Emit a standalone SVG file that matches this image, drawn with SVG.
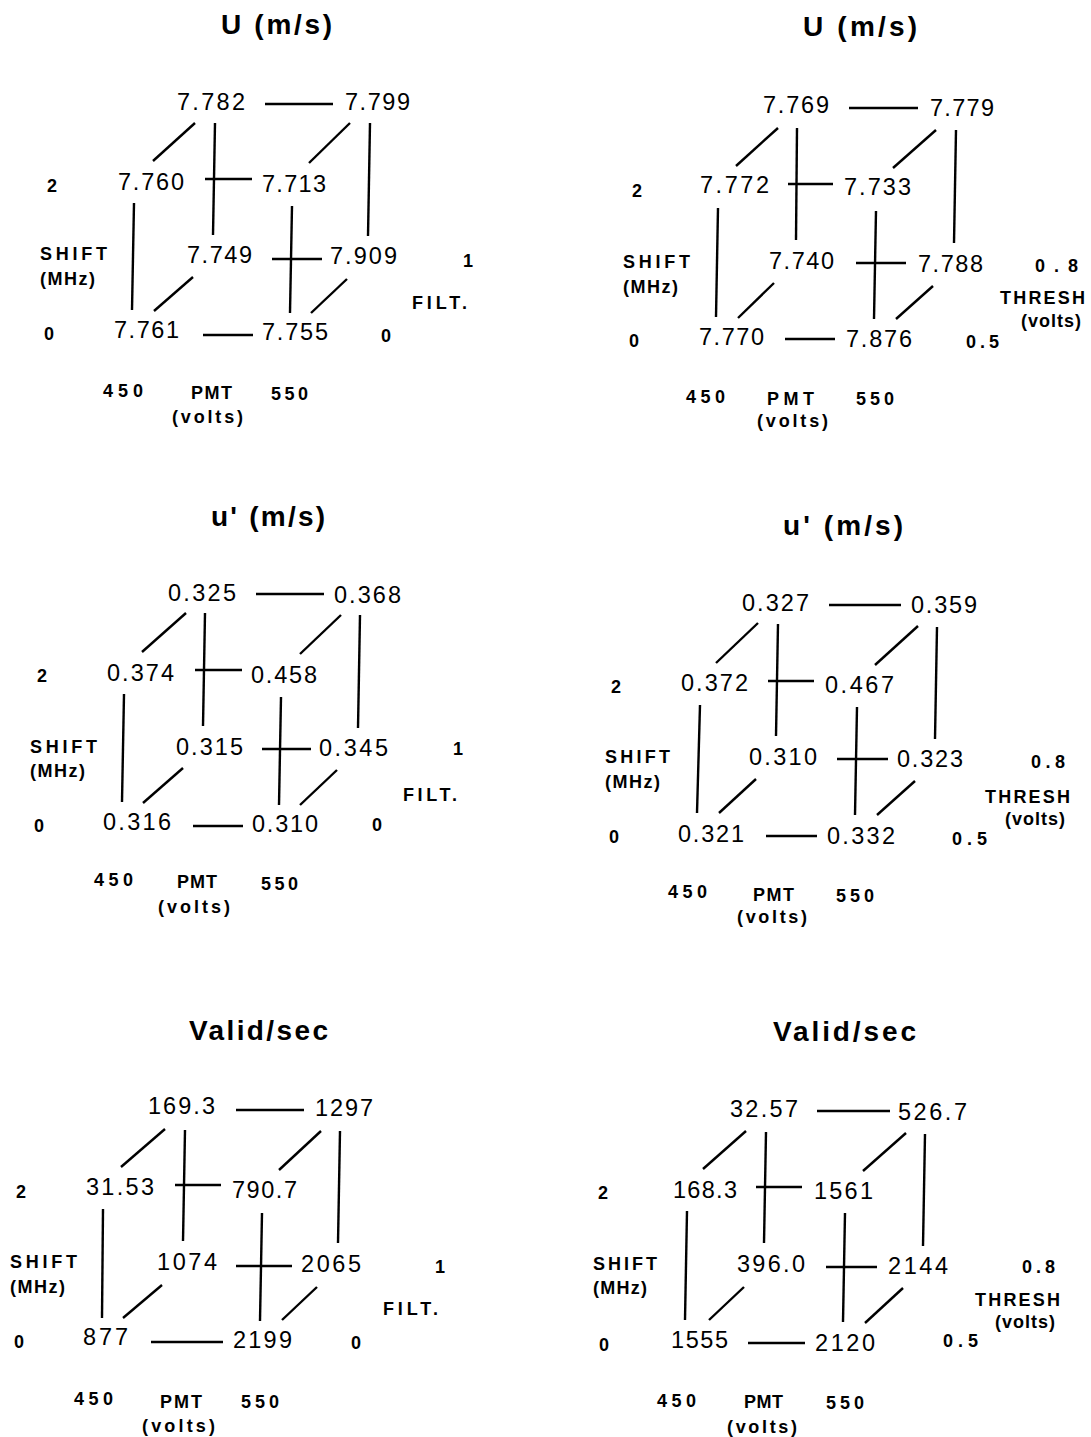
<svg xmlns="http://www.w3.org/2000/svg" width="1091" height="1437" viewBox="0 0 1091 1437">
<style>
.n{font-family:"Liberation Sans",Arial,sans-serif;font-size:23.5px;fill:#000}
.l{font-family:"Liberation Sans",Arial,sans-serif;font-size:18px;font-weight:bold;fill:#000}
.t{font-family:"Liberation Sans",Arial,sans-serif;font-size:28px;font-weight:bold;fill:#000}
.e line{stroke:#000;stroke-width:2.4;stroke-linecap:butt}
</style>
<rect width="1091" height="1437" fill="#fff"/>

<!-- Cube 1: U (m/s), FILT -->
<g id="cube1">
<text class="t" x="221" y="34" textLength="111">U  (m/s)</text>
<g id="c1-n1"><text class="n" x="177" y="110" textLength="68">7.782</text></g>
<g id="c1-n2"><text class="n" x="345" y="110" textLength="65">7.799</text></g>
<g id="c1-n3"><text class="n" x="118" y="190" textLength="66">7.760</text></g>
<g id="c1-n4"><text class="n" x="262" y="192" textLength="64">7.713</text></g>
<g id="c1-n5"><text class="n" x="187" y="263" textLength="65">7.749</text></g>
<g id="c1-n6"><text class="n" x="330" y="264" textLength="67">7.909</text></g>
<g id="c1-n7"><text class="n" x="114" y="338" textLength="65">7.761</text></g>
<g id="c1-n8"><text class="n" x="262" y="340" textLength="66">7.755</text></g>
<g id="c1-edges" class="e">
<line x1="265" y1="104" x2="333" y2="104"/>
<line x1="195" y1="123" x2="153" y2="161"/>
<line x1="215" y1="123" x2="213" y2="235"/>
<line x1="350" y1="123" x2="309" y2="163"/>
<line x1="370" y1="123" x2="368" y2="236"/>
<line x1="205" y1="179" x2="252" y2="179"/>
<line x1="134" y1="203" x2="132" y2="310"/>
<line x1="292" y1="206" x2="290" y2="313"/>
<line x1="272" y1="259" x2="322" y2="259"/>
<line x1="193" y1="277" x2="154" y2="311"/>
<line x1="347" y1="279" x2="311" y2="313"/>
<line x1="203" y1="335" x2="253" y2="335"/>
</g>
<g id="c1-axes">
<text class="l" x="47" y="192">2</text>
<text class="l" x="40" y="260" textLength="67">SHIFT</text>
<text class="l" x="40" y="285" textLength="55">(MHz)</text>
<text class="l" x="463" y="267">1</text>
<text class="l" x="412" y="309" textLength="55">FILT.</text>
<text class="l" x="44" y="340">0</text>
<text class="l" x="381" y="342">0</text>
<text class="l" x="103" y="397" textLength="40">450</text>
<text class="l" x="191" y="399" textLength="41">PMT</text>
<text class="l" x="271" y="400" textLength="37">550</text>
<text class="l" x="172" y="423" textLength="71">(volts)</text>
</g>
</g>

<!-- Cube 2: U (m/s), THRESH -->
<g id="cube2">
<text class="t" x="803" y="36" textLength="114">U  (m/s)</text>
<g id="c2-n1"><text class="n" x="763" y="113" textLength="66">7.769</text></g>
<g id="c2-n2"><text class="n" x="930" y="116" textLength="64">7.779</text></g>
<g id="c2-n3"><text class="n" x="700" y="193" textLength="69">7.772</text></g>
<g id="c2-n4"><text class="n" x="844" y="195" textLength="67">7.733</text></g>
<g id="c2-n5"><text class="n" x="769" y="269" textLength="65">7.740</text></g>
<g id="c2-n6"><text class="n" x="918" y="272" textLength="65">7.788</text></g>
<g id="c2-n7"><text class="n" x="699" y="345" textLength="65">7.770</text></g>
<g id="c2-n8"><text class="n" x="846" y="347" textLength="66">7.876</text></g>
<g id="c2-edges" class="e">
<line x1="849" y1="108" x2="918" y2="108"/>
<line x1="778" y1="128" x2="736" y2="166"/>
<line x1="797" y1="128" x2="796" y2="240"/>
<line x1="936" y1="130" x2="893" y2="168"/>
<line x1="956" y1="130" x2="954" y2="243"/>
<line x1="788" y1="184" x2="833" y2="184"/>
<line x1="718" y1="208" x2="716" y2="317"/>
<line x1="876" y1="211" x2="874" y2="319"/>
<line x1="856" y1="263" x2="906" y2="263"/>
<line x1="774" y1="283" x2="738" y2="318"/>
<line x1="933" y1="286" x2="896" y2="319"/>
<line x1="785" y1="339" x2="835" y2="339"/>
</g>
<g id="c2-axes">
<text class="l" x="632" y="197">2</text>
<text class="l" x="623" y="268" textLength="67">SHIFT</text>
<text class="l" x="623" y="293" textLength="55">(MHz)</text>
<text class="l" x="1035" y="272" textLength="43">0.8</text>
<text class="l" x="1000" y="304" textLength="85">THRESH</text>
<text class="l" x="1021" y="327" textLength="60">(volts)</text>
<text class="l" x="629" y="347">0</text>
<text class="l" x="966" y="348" textLength="33">0.5</text>
<text class="l" x="686" y="403" textLength="39">450</text>
<text class="l" x="767" y="405" textLength="47">PMT</text>
<text class="l" x="856" y="405" textLength="38">550</text>
<text class="l" x="757" y="427" textLength="71">(volts)</text>
</g>
</g>

<!-- Cube 3: u' (m/s), FILT -->
<g id="cube3">
<text class="t" x="211" y="526" textLength="114">u'  (m/s)</text>
<g id="c3-n1"><text class="n" x="168" y="601" textLength="68">0.325</text></g>
<g id="c3-n2"><text class="n" x="334" y="603" textLength="67">0.368</text></g>
<g id="c3-n3"><text class="n" x="107" y="681" textLength="67">0.374</text></g>
<g id="c3-n4"><text class="n" x="251" y="683" textLength="66">0.458</text></g>
<g id="c3-n5"><text class="n" x="176" y="755" textLength="67">0.315</text></g>
<g id="c3-n6"><text class="n" x="319" y="756" textLength="69">0.345</text></g>
<g id="c3-n7"><text class="n" x="103" y="830" textLength="68">0.316</text></g>
<g id="c3-n8"><text class="n" x="252" y="832" textLength="66">0.310</text></g>
<g id="c3-edges" class="e">
<line x1="256" y1="594" x2="324" y2="594"/>
<line x1="186" y1="613" x2="142" y2="652"/>
<line x1="205" y1="613" x2="203" y2="726"/>
<line x1="341" y1="615" x2="300" y2="654"/>
<line x1="360" y1="615" x2="358" y2="728"/>
<line x1="195" y1="670" x2="242" y2="670"/>
<line x1="124" y1="694" x2="122" y2="802"/>
<line x1="281" y1="697" x2="279" y2="805"/>
<line x1="262" y1="749" x2="311" y2="749"/>
<line x1="183" y1="768" x2="143" y2="803"/>
<line x1="337" y1="770" x2="300" y2="805"/>
<line x1="193" y1="826" x2="243" y2="826"/>
</g>
<g id="c3-axes">
<text class="l" x="37" y="682">2</text>
<text class="l" x="30" y="753" textLength="67">SHIFT</text>
<text class="l" x="30" y="777" textLength="55">(MHz)</text>
<text class="l" x="453" y="755">1</text>
<text class="l" x="403" y="801" textLength="54">FILT.</text>
<text class="l" x="34" y="832">0</text>
<text class="l" x="372" y="831">0</text>
<text class="l" x="94" y="886" textLength="39">450</text>
<text class="l" x="177" y="888" textLength="40">PMT</text>
<text class="l" x="261" y="890" textLength="37">550</text>
<text class="l" x="158" y="913" textLength="72">(volts)</text>
</g>
</g>

<!-- Cube 4: u' (m/s), THRESH -->
<g id="cube4">
<text class="t" x="783" y="535" textLength="120">u'  (m/s)</text>
<g id="c4-n1"><text class="n" x="742" y="611" textLength="67">0.327</text></g>
<g id="c4-n2"><text class="n" x="911" y="613" textLength="66">0.359</text></g>
<g id="c4-n3"><text class="n" x="681" y="691" textLength="67">0.372</text></g>
<g id="c4-n4"><text class="n" x="825" y="693" textLength="69">0.467</text></g>
<g id="c4-n5"><text class="n" x="749" y="765" textLength="68">0.310</text></g>
<g id="c4-n6"><text class="n" x="897" y="767" textLength="66">0.323</text></g>
<g id="c4-n7"><text class="n" x="678" y="842" textLength="66">0.321</text></g>
<g id="c4-n8"><text class="n" x="827" y="844" textLength="68">0.332</text></g>
<g id="c4-edges" class="e">
<line x1="829" y1="605" x2="901" y2="605"/>
<line x1="758" y1="623" x2="716" y2="663"/>
<line x1="778" y1="624" x2="776" y2="736"/>
<line x1="918" y1="626" x2="875" y2="665"/>
<line x1="937" y1="627" x2="935" y2="739"/>
<line x1="768" y1="681" x2="814" y2="681"/>
<line x1="700" y1="705" x2="697" y2="813"/>
<line x1="857" y1="707" x2="855" y2="815"/>
<line x1="837" y1="759" x2="888" y2="759"/>
<line x1="756" y1="779" x2="719" y2="813"/>
<line x1="915" y1="781" x2="877" y2="815"/>
<line x1="766" y1="836" x2="817" y2="836"/>
</g>
<g id="c4-axes">
<text class="l" x="611" y="693">2</text>
<text class="l" x="605" y="763" textLength="65">SHIFT</text>
<text class="l" x="605" y="788" textLength="55">(MHz)</text>
<text class="l" x="1031" y="768" textLength="34">0.8</text>
<text class="l" x="985" y="803" textLength="85">THRESH</text>
<text class="l" x="1005" y="825" textLength="60">(volts)</text>
<text class="l" x="609" y="843">0</text>
<text class="l" x="952" y="845" textLength="35">0.5</text>
<text class="l" x="668" y="898" textLength="39">450</text>
<text class="l" x="753" y="901" textLength="41">PMT</text>
<text class="l" x="836" y="902" textLength="38">550</text>
<text class="l" x="737" y="923" textLength="70">(volts)</text>
</g>
</g>

<!-- Cube 5: Valid/sec, FILT -->
<g id="cube5">
<text class="t" x="189" y="1040" textLength="139">Valid/sec</text>
<g id="c5-n1"><text class="n" x="148" y="1114" textLength="67">169.3</text></g>
<g id="c5-n2"><text class="n" x="315" y="1116" textLength="58">1297</text></g>
<g id="c5-n3"><text class="n" x="86" y="1195" textLength="68">31.53</text></g>
<g id="c5-n4"><text class="n" x="232" y="1198" textLength="65">790.7</text></g>
<g id="c5-n5"><text class="n" x="157" y="1270" textLength="60">1074</text></g>
<g id="c5-n6"><text class="n" x="301" y="1272" textLength="60">2065</text></g>
<g id="c5-n7"><text class="n" x="83" y="1345" textLength="45">877</text></g>
<g id="c5-n8"><text class="n" x="233" y="1348" textLength="59">2199</text></g>
<g id="c5-edges" class="e">
<line x1="236" y1="1110" x2="304" y2="1110"/>
<line x1="165" y1="1129" x2="121" y2="1167"/>
<line x1="185" y1="1130" x2="183" y2="1241"/>
<line x1="321" y1="1131" x2="279" y2="1170"/>
<line x1="340" y1="1131" x2="338" y2="1243"/>
<line x1="175" y1="1185" x2="221" y2="1185"/>
<line x1="103" y1="1209" x2="102" y2="1318"/>
<line x1="262" y1="1213" x2="260" y2="1321"/>
<line x1="236" y1="1266" x2="292" y2="1266"/>
<line x1="162" y1="1285" x2="123" y2="1318"/>
<line x1="317" y1="1287" x2="282" y2="1320"/>
<line x1="151" y1="1342" x2="223" y2="1342"/>
</g>
<g id="c5-axes">
<text class="l" x="16" y="1198">2</text>
<text class="l" x="10" y="1268" textLength="67">SHIFT</text>
<text class="l" x="10" y="1293" textLength="55">(MHz)</text>
<text class="l" x="435" y="1273">1</text>
<text class="l" x="383" y="1315" textLength="55">FILT.</text>
<text class="l" x="14" y="1348">0</text>
<text class="l" x="351" y="1349">0</text>
<text class="l" x="74" y="1405" textLength="39">450</text>
<text class="l" x="160" y="1408" textLength="42">PMT</text>
<text class="l" x="241" y="1408" textLength="38">550</text>
<text class="l" x="142" y="1432" textLength="73">(volts)</text>
</g>
</g>

<!-- Cube 6: Valid/sec, THRESH -->
<g id="cube6">
<text class="t" x="773" y="1041" textLength="143">Valid/sec</text>
<g id="c6-n1"><text class="n" x="730" y="1117" textLength="68">32.57</text></g>
<g id="c6-n2"><text class="n" x="898" y="1120" textLength="69">526.7</text></g>
<g id="c6-n3"><text class="n" x="673" y="1198" textLength="64">168.3</text></g>
<g id="c6-n4"><text class="n" x="814" y="1199" textLength="59">1561</text></g>
<g id="c6-n5"><text class="n" x="737" y="1272" textLength="68">396.0</text></g>
<g id="c6-n6"><text class="n" x="888" y="1274" textLength="60">2144</text></g>
<g id="c6-n7"><text class="n" x="671" y="1348" textLength="57">1555</text></g>
<g id="c6-n8"><text class="n" x="815" y="1351" textLength="60">2120</text></g>
<g id="c6-edges" class="e">
<line x1="817" y1="1111" x2="890" y2="1111"/>
<line x1="746" y1="1131" x2="703" y2="1169"/>
<line x1="766" y1="1132" x2="764" y2="1243"/>
<line x1="906" y1="1133" x2="863" y2="1171"/>
<line x1="925" y1="1134" x2="923" y2="1246"/>
<line x1="756" y1="1187" x2="802" y2="1187"/>
<line x1="687" y1="1211" x2="685" y2="1320"/>
<line x1="845" y1="1213" x2="843" y2="1322"/>
<line x1="826" y1="1267" x2="877" y2="1267"/>
<line x1="744" y1="1287" x2="709" y2="1320"/>
<line x1="903" y1="1288" x2="865" y2="1323"/>
<line x1="748" y1="1343" x2="805" y2="1343"/>
</g>
<g id="c6-axes">
<text class="l" x="598" y="1199">2</text>
<text class="l" x="593" y="1270" textLength="64">SHIFT</text>
<text class="l" x="593" y="1294" textLength="54">(MHz)</text>
<text class="l" x="1022" y="1273" textLength="33">0.8</text>
<text class="l" x="975" y="1306" textLength="85">THRESH</text>
<text class="l" x="995" y="1328" textLength="60">(volts)</text>
<text class="l" x="599" y="1351">0</text>
<text class="l" x="943" y="1347" textLength="35">0.5</text>
<text class="l" x="657" y="1407" textLength="39">450</text>
<text class="l" x="744" y="1408" textLength="39">PMT</text>
<text class="l" x="826" y="1409" textLength="38">550</text>
<text class="l" x="727" y="1433" textLength="70">(volts)</text>
</g>
</g>
</svg>
